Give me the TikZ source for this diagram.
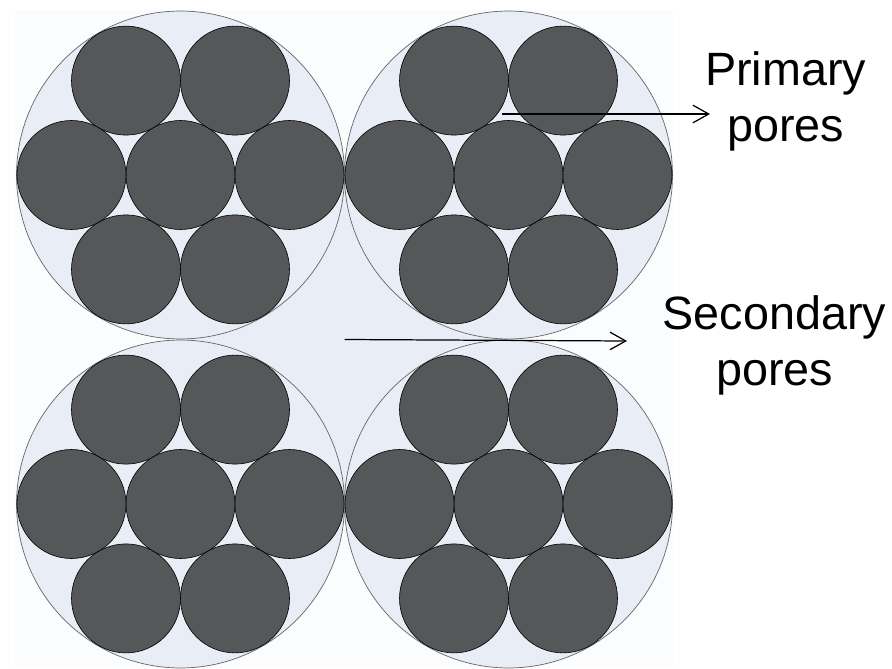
\documentclass[tikz,border=0pt]{standalone}
\usepackage{fontspec}
\setmainfont{Liberation Sans}
\usepackage{tikz}
\definecolor{pore}{RGB}{233,237,245}
\definecolor{fibregrey}{RGB}{86,87,89}
\definecolor{paper}{RGB}{251,252,254}
\usetikzlibrary{calc, arrows.meta}
\tikzset{%
  shell/.style={draw=black!60, circle, fill=pore, line width=0.4pt, inner sep=0pt, minimum size=6.56cm},% bundle outline
  fibre/.style={draw=black, circle, fill=fibregrey, line width=0.35pt, inner sep=0pt, minimum size=2.18cm},% single fibre
  pointer/.style={line width=0.7pt, -{Straight Barb[length=9pt, width=10pt]}},% pore pointers
  poretext/.style={align=center, anchor=base, inner sep=0pt, font=\fontsize{26.6}{31.5}\selectfont}% pore names
}
\newcommand*{\bundle}[2]{% #1 = bundle name, #2 = centre
  \node[shell] (#1) at (#2) {};
  \node[fibre] (#1c) at (#2) {};
  \foreach \a in {0,60,...,300}
    \node[fibre] (#1\a) at ($(#2)+(\a:109)$) {};
}

\begin{document}
\begin{tikzpicture}[x=0.02cm, y=0.02cm]
\useasboundingbox (0,0) rectangle (892,-669);
\fill[paper] (15,-10) rectangle (673,-668);

\coordinate (tl) at (180.5,-175);
\coordinate (tr) at (508.5,-175);
\coordinate (bl) at (180.5,-504);
\coordinate (br) at (508.5,-504);
\fill[pore] (tl) rectangle (br);

\bundle{a}{tl}
\bundle{b}{tr}
\bundle{c}{bl}
\bundle{d}{br}

% base = baseline of the last line
\node[poretext] (prim) at (785.5,-141) {Primary\\pores};
\node[poretext] (sec) at (774.5,-385) {Secondary\\pores};

\coordinate (p1) at (502,-114);
\coordinate (p1end) at (710,-114);
\coordinate (p2) at ($(tl)!0.5!(br)$);
\coordinate (p2end) at (627,-341);
\draw[pointer] (p1) -- (p1end);
\draw[pointer] (p2) -- (p2end);
\end{tikzpicture}
\end{document}
